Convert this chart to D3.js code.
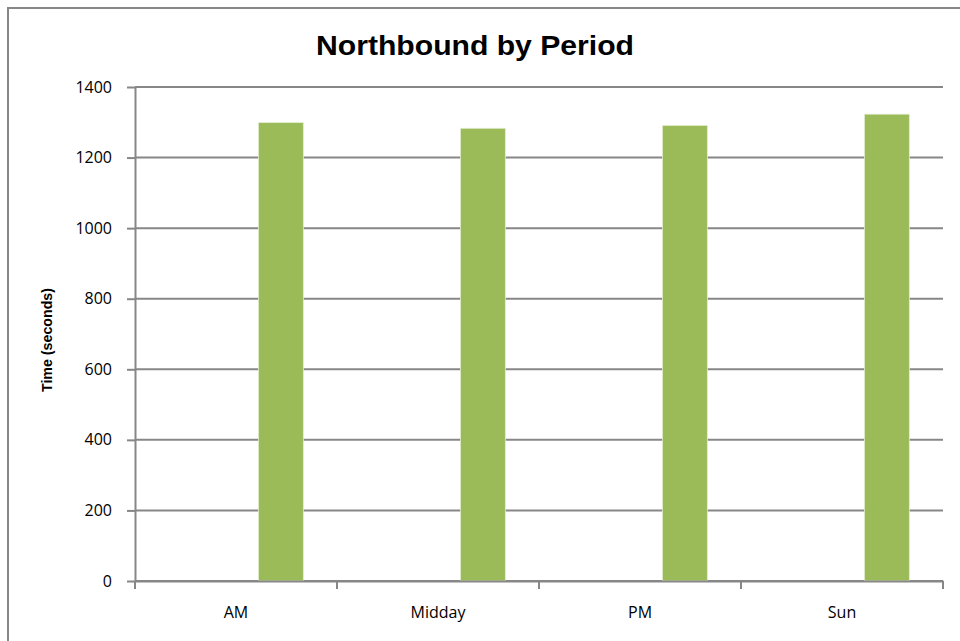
<!DOCTYPE html>
<html>
<head>
<meta charset="utf-8">
<script src="https://cdn.jsdelivr.net/npm/d3@7"></script>
<style>
  body { margin: 0; background: #fff; }
  svg { display: block; }
</style>
</head>
<body>
<div id="chart"></div>
<script>
// data
var periods = ["AM", "Midday", "PM", "Sun"];
var times = [1299, 1283, 1291, 1323];
var yTicks = [0, 200, 400, 600, 800, 1000, 1200, 1400];
// Excel clustered layout: 3 series slots, only the 3rd one holds data
var seriesSlots = ["s1", "s2", "s3"];
var shownSlot = "s3";

var W = 960, H = 641;
var margin = {top: 87, right: 17, bottom: 60, left: 135},
    width = W - margin.left - margin.right,
    height = H - margin.top - margin.bottom;

var labelFont = "'Open Sans', 'Noto Sans', sans-serif";

var svg = d3.select("#chart")
  .append("svg")
    .attr("width", W)
    .attr("height", H);

// outer chart border (cropped at right/bottom)
svg.append("path")
  .attr("d", "M8," + H + "V8H" + W)
  .attr("fill", "none")
  .attr("stroke", "#878787")
  .attr("stroke-width", 2);

// title
svg.append("text")
  .attr("x", 475)
  .attr("y", 55)
  .attr("text-anchor", "middle")
  .attr("textLength", 318)
  .attr("lengthAdjust", "spacingAndGlyphs")
  .style("font-family", "'Liberation Sans Narrow', 'Liberation Sans', Arial, sans-serif")
  .style("font-weight", "bold")
  .style("font-size", "28px")
  .text("Northbound by Period");

var g = svg.append("g")
  .attr("transform", "translate(" + margin.left + "," + margin.top + ")");

var x = d3.scaleBand()
  .domain(periods)
  .range([0, width])
  .paddingInner(0)
  .paddingOuter(0);

// gap width 150% -> padding 0.75 bar on each side
var x1 = d3.scaleBand()
  .domain(seriesSlots)
  .range([0, x.bandwidth()])
  .paddingInner(0)
  .paddingOuter(0.75);

var y = d3.scaleLinear()
  .domain([0, 1400])
  .range([height, 0]);

// gridlines
g.append("g")
  .selectAll("line")
  .data(yTicks)
  .enter()
  .append("line")
    .attr("x1", 0)
    .attr("x2", width)
    .attr("y1", function(d) { return y(d); })
    .attr("y2", function(d) { return y(d); })
    .attr("stroke", "#878787")
    .attr("stroke-width", 2);

// bars
g.selectAll(".bar")
  .data(times)
  .enter()
  .append("rect")
    .attr("class", "bar")
    .attr("x", function(d, i) { return x(periods[i]) + x1(shownSlot); })
    .attr("y", function(d) { return y(d); })
    .attr("width", x1.bandwidth())
    .attr("height", function(d) { return height - y(d); })
    .attr("fill", "#9bbb59")
    .attr("stroke", "#e3ecd0")
    .attr("stroke-width", 0.8);

// y axis
var yAxis = g.append("g")
  .call(d3.axisLeft(y).tickValues(yTicks).tickFormat(d3.format("d"))
    .tickSize(8).tickSizeOuter(0).tickPadding(15));
yAxis.select(".domain").attr("stroke", "#878787").attr("stroke-width", 2);
yAxis.selectAll(".tick line").attr("stroke", "#878787").attr("stroke-width", 2);
yAxis.selectAll(".tick text")
  .attr("font-size", 16)
  .attr("font-family", labelFont)
  .attr("fill", "#000");

// x axis with ticks at band boundaries
var xAxis = g.append("g")
  .attr("transform", "translate(0," + height + ")")
  .call(d3.axisBottom(x).tickSize(0).tickPadding(26));
xAxis.select(".domain").attr("stroke", "#878787").attr("stroke-width", 2);
xAxis.selectAll(".tick text")
  .attr("font-size", 16)
  .attr("font-family", labelFont)
  .attr("fill", "#000");
xAxis.append("g")
  .selectAll("line")
  .data(periods.map(function(p) { return x(p); }).concat([width]))
  .enter()
  .append("line")
    .attr("x1", function(d) { return d; })
    .attr("x2", function(d) { return d; })
    .attr("y1", 0)
    .attr("y2", 8)
    .attr("stroke", "#878787")
    .attr("stroke-width", 2);

// y axis title
svg.append("text")
  .attr("transform", "translate(52,340)rotate(-90)")
  .attr("text-anchor", "middle")
  .attr("textLength", 104)
  .attr("lengthAdjust", "spacingAndGlyphs")
  .style("font-family", "'Liberation Sans Narrow', 'Liberation Sans', Arial, sans-serif")
  .style("font-weight", "bold")
  .style("font-size", "14px")
  .text("Time (seconds)");
</script>
</body>
</html>
